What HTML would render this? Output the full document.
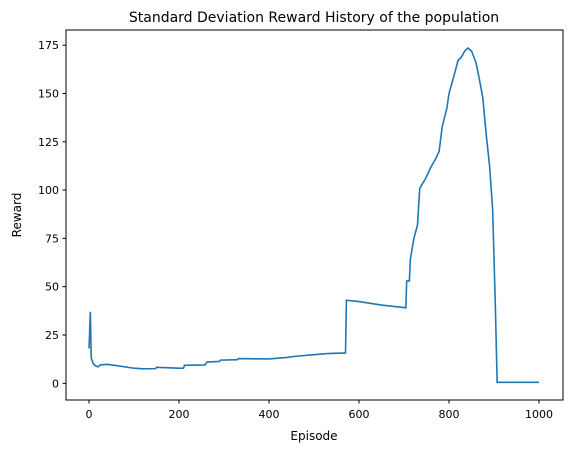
<!DOCTYPE html>
<html><head><meta charset="utf-8"><style>
body{margin:0;background:#fff;}
svg{display:block;font-family:"DejaVu Sans","Liberation Sans",sans-serif;}
</style></head><body>
<svg id="chart" width="571" height="453" viewBox="0 0 571 453">
<text x="314" y="22" text-anchor="middle" font-size="14">Standard Deviation Reward History of the population</text>
<g id="plot"></g>
<rect x="66" y="30" width="497" height="370" fill="none" stroke="#000" stroke-width="1"/>
<text x="314" y="440" text-anchor="middle" font-size="12">Episode</text>
<text x="21" y="215" text-anchor="middle" font-size="12" transform="rotate(-90 21 215)">Reward</text>
</svg>
<script>
const episodes=[0,3,5,10,15,20,25,40,60,80,100,120,148,150,200,210,212,258,262,290,292,330,332,400,440,460,500,530,570,572,600,650,700,704,706,712,714,722,730,735,748,760,770,778,785,795,800,812,820,828,835,842,850,860,867,875,883,890,897,903,907,1000];
const rewards=[18,37,13,10,9,8.5,9.5,9.8,9.2,8.5,7.8,7.5,7.6,8.3,7.8,7.8,9.3,9.5,11,11.3,12,12.2,12.8,12.6,13.4,14,14.8,15.4,15.7,43,42.3,40.5,39.2,39,53,53,64,75,82,101,106,112,116,120,133,142,150,160,167,169,172,173.5,172,166,158,148,128,113,90,40,0.5,0.5];
const xTicks=[0,200,400,600,800,1000];
const yTicks=[0,25,50,75,100,125,150,175];
const X=v=>89+v*0.45;
const Y=v=>383.3-v*1.932;
const NS='http://www.w3.org/2000/svg';
const g=document.getElementById('plot');
xTicks.forEach(t=>{
  const l=document.createElementNS(NS,'line');
  l.setAttribute('x1',X(t));l.setAttribute('x2',X(t));l.setAttribute('y1',400);l.setAttribute('y2',403.5);l.setAttribute('stroke','#000');
  
  
  g.appendChild(l);
  const tx=document.createElementNS(NS,'text');
  tx.setAttribute('x',X(t));tx.setAttribute('y',418);tx.setAttribute('text-anchor','middle');tx.setAttribute('font-size','11');
  tx.textContent=t;
  
  
  g.appendChild(tx);
});
yTicks.forEach(t=>{
  const l=document.createElementNS(NS,'line');
  l.setAttribute('x1',62.5);l.setAttribute('x2',66);l.setAttribute('y1',Y(t));l.setAttribute('y2',Y(t));l.setAttribute('stroke','#000');
  
  
  g.appendChild(l);
  const tx=document.createElementNS(NS,'text');
  tx.setAttribute('x',59);tx.setAttribute('y',Y(t)+4);tx.setAttribute('text-anchor','end');tx.setAttribute('font-size','11');
  tx.textContent=t;
  
  
  g.appendChild(tx);
});
const p=document.createElementNS(NS,'polyline');
p.setAttribute('points',episodes.map((e,i)=>X(e)+','+Y(rewards[i])).join(' '));
p.setAttribute('fill','none');p.setAttribute('stroke','#1f77b4');p.setAttribute('stroke-width','1.6');


g.appendChild(p);
</script>
</body></html>
